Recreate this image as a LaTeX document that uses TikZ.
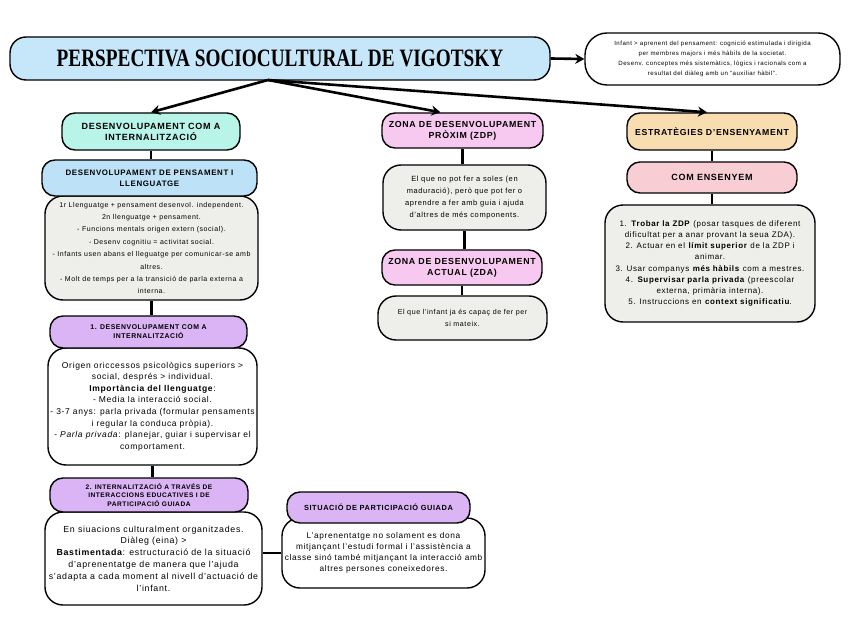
\documentclass[tikz,border=0pt]{standalone}
\usepackage{fontspec}
\setmainfont{Liberation Sans}[LetterSpace=8]
\newfontfamily\titlefont{Liberation Serif}[FakeStretch=0.77]
\usepackage{tikz}
\usetikzlibrary{arrows.meta}

\definecolor{titleblue}{HTML}{C6E6FA}
\definecolor{mint}{HTML}{B9F4E8}
\definecolor{skyblue}{HTML}{BDE2F8}
\definecolor{notegray}{HTML}{EEEEEA}
\definecolor{lilac}{HTML}{DAB4F5}
\definecolor{rosa}{HTML}{F8C9F0}
\definecolor{peach}{HTML}{F7DDAF}
\definecolor{blush}{HTML}{F8CED4}

\begin{document}
\begin{tikzpicture}[x=1pt,y=-1pt,
  box/.style={draw,line width=1.4pt,rounded corners=13pt,align=center,inner sep=1pt},
  head/.style={box,font={\fontsize{9}{11}\selectfont\bfseries}},
  small/.style={box,font={\fontsize{6.9}{9}\selectfont\bfseries}},
  note/.style={box,rounded corners=18pt},
  link/.style={line width=2.4pt},
  go/.style={line width=2.6pt,-{Stealth[length=9pt,width=10pt]}}]
  \useasboundingbox (0,0) rectangle (848,636);

  % title and side note
  \node[box,fill=titleblue,minimum width=540pt,minimum height=43pt,rounded corners=16pt] (title) at (280,58.5)
    {\titlefont\fontsize{25}{25}\selectfont\bfseries PERSPECTIVA SOCIOCULTURAL DE VIGOTSKY};
  \node[note,fill=white,minimum width=255pt,minimum height=52pt,rounded corners=22pt,
        font={\fontsize{6.1}{10}\selectfont}] (side) at (712.5,59)
    {Infant > aprenent del pensament: cognició estimulada i dirigida\\
     per membres majors i més hàbils de la societat.\\
     Desenv. conceptes més sistemàtics, lògics i racionals com a\\
     resultat del diàleg amb un ``auxiliar hàbil''.};
  \coordinate (hub) at (268,80);

  % left column
  \node[head,fill=mint,minimum width=178pt,minimum height=37pt] (dev) at (151,131.5)
    {DESENVOLUPAMENT COM A\\INTERNALITZACIÓ};
  \node[note,fill=notegray,minimum width=213pt,minimum height=104pt,
        font={\fontsize{7}{12.4}\selectfont}] (lang) at (151.5,248)
    {1r Llenguatge + pensament desenvol. independent.\\
     2n llenguatge + pensament.\\
     - Funcions mentals origen extern (social).\\
     - Desenv cognitiu = activitat social.\\
     - Infants usen abans el lleguatge per comunicar-se amb\\
     altres.\\
     - Molt de temps per a la transició de parla externa a\\
     interna.};
  \node[head,fill=skyblue,minimum width=215pt,minimum height=36pt,
        font={\fontsize{7.9}{11}\selectfont\bfseries}] (langh) at (149.5,178)
    {DESENVOLUPAMENT DE PENSAMENT I\\LLENGUATGE};
  \node[note,fill=white,minimum width=209pt,minimum height=117pt,
        font={\fontsize{8.5}{11.6}\selectfont}] (int) at (152.5,406.5)
    {Origen oriccessos psicològics superiors >\\
     social, després > individual.\\
     \textbf{Importància del llenguatge}:\\
     - Media la interacció social.\\
     - 3-7 anys: parla privada (formular pensaments\\
     i regular la conduca pròpia).\\
     - \textit{Parla privada}: planejar, guiar i supervisar el\\
     comportament.};
  \node[small,fill=lilac,minimum width=197pt,minimum height=32pt] (inth) at (148.5,332)
    {1. DESENVOLUPAMENT COM A\\INTERNALITZACIÓ};
  \node[note,fill=white,minimum width=217pt,minimum height=93pt,
        font={\fontsize{8.8}{11.8}\selectfont}] (scaf) at (153.5,558.5)
    {En siuacions culturalment organitzades.\\
     Diàleg (eina) >\\
     \textbf{Bastimentada}: estructuració de la situació\\
     d'aprenentatge de manera que l'ajuda\\
     s'adapta a cada moment al nivell d'actuació de\\
     l'infant.};
  \node[small,fill=lilac,minimum width=198pt,minimum height=34pt,
        font={\fontsize{6.6}{8.6}\selectfont\bfseries}] (scafh) at (149,495)
    {2. INTERNALITZACIÓ A TRAVÉS DE\\INTERACCIONS EDUCATIVES I DE\\PARTICIPACIÓ GUIADA};
  \node[note,fill=white,minimum width=203pt,minimum height=70pt,
        font={\fontsize{8.3}{11}\selectfont}] (guide) at (383.5,553)
    {L'aprenentatge no solament es dona\\
     mitjançant l'estudi formal i l'assistència a\\
     classe sinó també mitjançant la interacció amb\\
     altres persones coneixedores.};
  \node[small,fill=lilac,minimum width=183pt,minimum height=31pt,
        font={\fontsize{7.4}{9}\selectfont\bfseries}] (guideh) at (378.5,507.5)
    {SITUACIÓ DE PARTICIPACIÓ GUIADA};

  % middle column
  \node[head,fill=rosa,minimum width=161pt,minimum height=35pt,
        font={\fontsize{8.8}{11}\selectfont\bfseries}] (zdp) at (462.5,130.5)
    {ZONA DE DESENVOLUPAMENT\\PRÒXIM (ZDP)};
  \node[note,fill=notegray,minimum width=163pt,minimum height=65pt,
        font={\fontsize{7.5}{12}\selectfont}] (zdpt) at (464.5,197.5)
    {El que no pot fer a soles (en\\
     maduració), però que pot fer o\\
     aprendre a fer amb guia i ajuda\\
     d'altres de més components.};
  \node[head,fill=rosa,minimum width=160pt,minimum height=35pt,
        font={\fontsize{8.8}{11}\selectfont\bfseries}] (zda) at (462,267.5)
    {ZONA DE DESENVOLUPAMENT\\ACTUAL (ZDA)};
  \node[note,fill=notegray,minimum width=169pt,minimum height=44pt,
        font={\fontsize{7.1}{12}\selectfont}] (zdat) at (462.5,318)
    {El que l'infant ja és capaç de fer per\\si mateix.};

  % right column
  \node[head,fill=peach,minimum width=170pt,minimum height=37pt,
        font={\fontsize{8.7}{11}\selectfont\bfseries}] (str) at (712,131.5)
    {ESTRATÈGIES D'ENSENYAMENT};
  \node[head,fill=blush,minimum width=170pt,minimum height=31pt] (how) at (712,177.5)
    {COM ENSENYEM};
  \node[note,fill=notegray,minimum width=210pt,minimum height=117pt,
        font={\fontsize{8}{11.2}\selectfont}] (howt) at (710,263.5)
    {1. \textbf{Trobar la ZDP} (posar tasques de diferent\\
     dificultat per a anar provant la seua ZDA).\\
     2. Actuar en el \textbf{límit superior} de la ZDP i\\
     animar.\\
     3. Usar companys \textbf{més hàbils} com a mestres.\\
     4. \textbf{Supervisar parla privada} (preescolar\\
     externa, primària interna).\\
     5. Instruccions en \textbf{context significatiu}.};

  % connectors
  \path[go]
  (title.east) edge (side.west)
  (hub) edge (dev.north)
  (hub) edge ([xshift=-22pt]zdp.north)
  (hub) edge ([xshift=-5pt]str.north)
  ;
  \path[link]
  (dev.south) edge (dev.south |- langh.north)
  (lang.south) edge (lang.south |- inth.north)
  (int.south) edge (int.south |- scafh.north)
  (guide.west -| scaf.east) edge (guide.west)
  (zdp.south) edge (zdp.south |- zdpt.north)
  (zdpt.south) edge (zdpt.south |- zda.north)
  (zda.south) edge (zda.south |- zdat.north)
  (str.south) edge (how.north)
  (how.south) edge (how.south |- howt.north)
  ;
\end{tikzpicture}
\end{document}
